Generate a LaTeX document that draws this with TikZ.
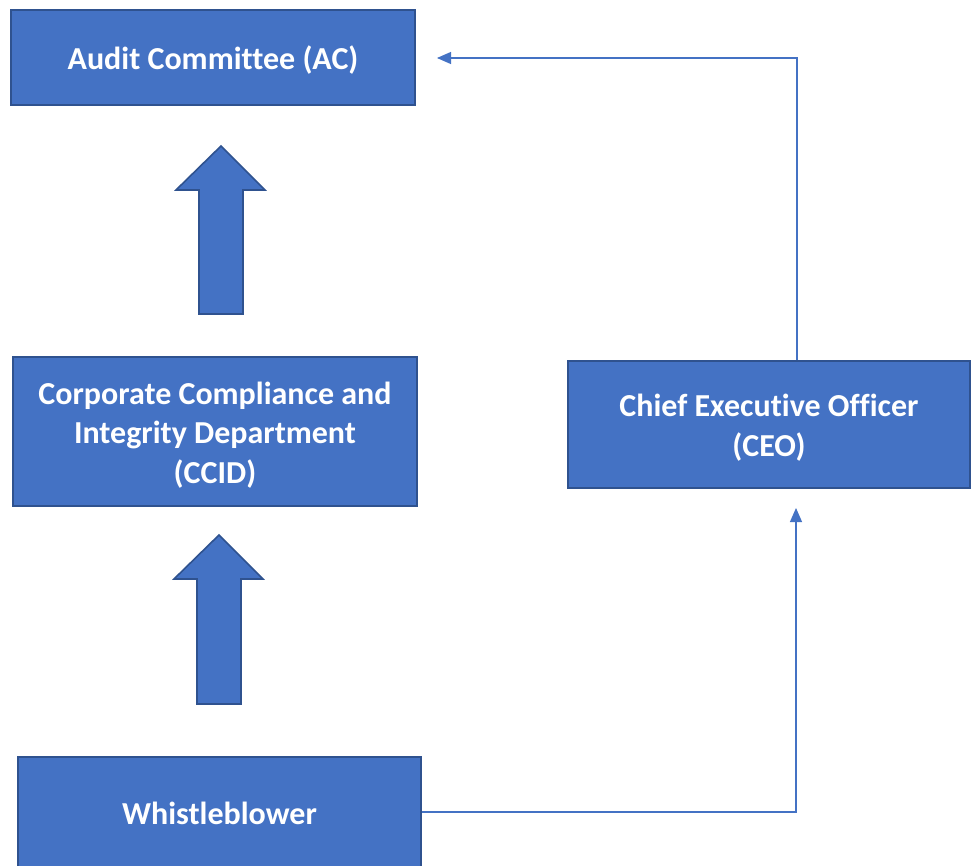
\documentclass[tikz,border=0pt]{standalone}
\usepackage{fontspec}
\setmainfont{Carlito}[Ligatures=NoCommon]
\usetikzlibrary{arrows.meta}
\definecolor{boxfill}{HTML}{4472C4}
\definecolor{boxedge}{HTML}{2F528F}
\begin{document}
\begin{tikzpicture}[x=1pt,y=-1pt,
  box/.style={draw=boxedge, line width=1.6pt, fill=boxfill, inner sep=0pt},
  boxtext/.style={text=white, font=\bfseries\fontsize{32}{39.5}\selectfont, align=center, inner sep=0pt},
  link/.style={draw=boxfill, line width=1.1pt, -{Triangle[length=14pt,width=12pt]}},
  blockarrow/.style={draw=boxedge, line width=1.6pt, fill=boxfill, line join=miter}]
\clip (0,0) rectangle (977,865);
\fill[white] (0,0) rectangle (977,865);
\node[box, minimum width=404pt, minimum height=95pt] (ac) at (213,57.5) {};
\node[boxtext] (act) at (213,60) {Audit Committee (AC)};
\node[box, minimum width=404pt, minimum height=149pt] (ccid) at (215,431.5) {};
\node[boxtext] (ccidt) at (215,435) {Corporate Compliance and\\Integrity Department\\(CCID)};
\node[box, minimum width=402pt, minimum height=127pt] (ceo) at (769,424.5) {};
\node[boxtext] (ceot) at (769,427.5) {Chief Executive Officer\\(CEO)};
\node[box, minimum width=403pt, minimum height=120pt] (wb) at (219.5,817) {};
\node[boxtext] (wbt) at (219.5,813) {Whistleblower};
% block arrows
\path[blockarrow] (221,146) -- (265,190) -- (243,190) -- (243,314) -- (199,314) -- (199,190) -- (176,190) -- cycle;
\path[blockarrow] (219,535) -- (263,579) -- (241,579) -- (241,704) -- (197,704) -- (197,579) -- (174,579) -- cycle;
% connectors
\coordinate (c1) at (797,58);
\coordinate (acin) at (437,58);
\draw[link] (ceo.north -| c1) -- (c1) -- (acin);
\coordinate (c2) at (796,812);
\coordinate (ceoin) at (796,508);
\draw[link] (wb.east |- c2) -- (c2) -- (ceoin);
\end{tikzpicture}
\end{document}
